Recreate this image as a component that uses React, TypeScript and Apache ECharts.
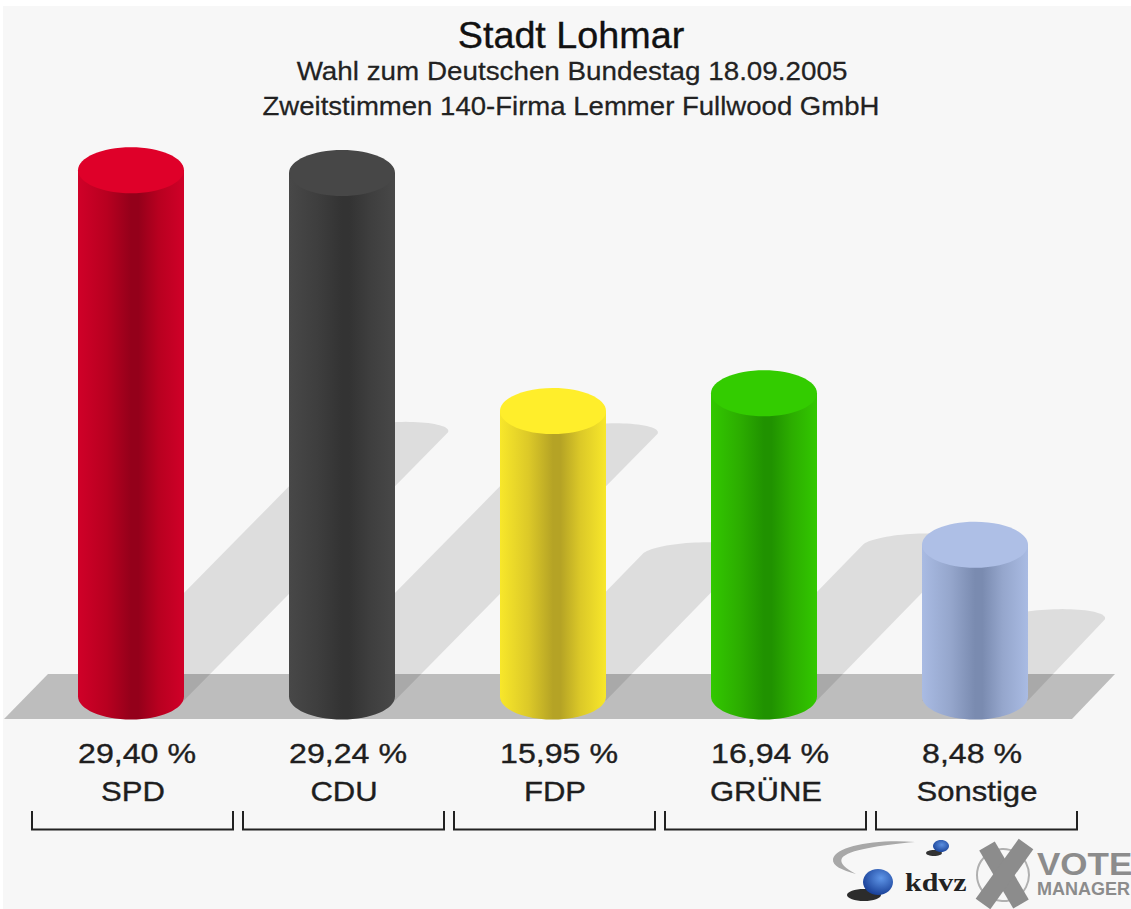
import React, { useEffect, useRef } from "react";
import * as echarts from "echarts";

const categories = ["SPD", "CDU", "FDP", "GRÜNE", "Sonstige"];
const values = [29.4, 29.24, 15.95, 16.94, 8.48];
const valueLabels = ["29,40 %", "29,24 %", "15,95 %", "16,94 %", "8,48 %"];
const capColors = ["#df0029", "#474747", "#ffee2b", "#33cc00", "#aebfe6"];
const edgeColors = ["#d00028", "#484848", "#f8e72a", "#32c800", "#a9bbe3"];
const shadeColors = ["#b80020", "#3e3e3e", "#dcc928", "#2cad00", "#95a6cc"];
const darkColors = ["#94001a", "#333333", "#b5a325", "#209200", "#7a8bb0"];

const swooshPath =
  "M915 842C875 839 836 846 833 859C832 866 842 870 856 874C846 869 839 863 842 858C848 850 880 845 915 842Z";
echarts.graphic.registerShape("kdvzSwoosh", echarts.graphic.extendPath(swooshPath, {}) as any);

const BAR_RX = 53;
const BAR_RY = 23;
const INK = "#1e1e1e";

function renderShadow(_: any, api: any) {
  const i = api.value(0);
  const [cx, top] = api.coord([i, api.value(1)]);
  const [, base] = api.coord([i, 0]);
  const lift = (base - top) / 2;
  const pts: number[][] = [[cx - BAR_RX, base + 4]];
  for (let k = 0; k <= 40; k++) {
    const a = Math.PI - (Math.PI * k) / 40;
    const s = Math.sin(a);
    pts.push([cx + lift + BAR_RX * Math.cos(a) + 11.5 * s, base - lift - 11.5 * s]);
  }
  pts.push([cx + BAR_RX, base + 4]);
  return {
    type: "polygon",
    shape: { points: pts },
    style: { fill: "rgba(0,0,0,0.1)" },
  };
}

function renderCylinder(_: any, api: any) {
  const i = api.value(0);
  const [cx, top] = api.coord([i, api.value(1)]);
  const [, base] = api.coord([i, 0]);
  const side = {
    type: "linear",
    x: 0,
    y: 0,
    x2: 1,
    y2: 0,
    colorStops: [
      { offset: 0, color: edgeColors[i] },
      { offset: 0.27, color: shadeColors[i] },
      { offset: 0.5, color: darkColors[i] },
      { offset: 0.57, color: darkColors[i] },
      { offset: 0.76, color: shadeColors[i] },
      { offset: 1, color: edgeColors[i] },
    ],
  };
  return {
    type: "group",
    children: [
      {
        type: "ellipse",
        shape: { cx, cy: base, rx: BAR_RX, ry: BAR_RY },
        style: { fill: side },
      },
      {
        type: "rect",
        shape: { x: cx - BAR_RX, y: top, width: BAR_RX * 2, height: base - top },
        style: { fill: side },
      },
      {
        type: "ellipse",
        shape: { cx, cy: top, rx: BAR_RX, ry: BAR_RY },
        style: { fill: capColors[i] },
      },
      {
        type: "text",
        x: cx - 53,
        y: 753,
        scaleX: 1.17,
        style: {
          text: valueLabels[i],
          fill: INK,
          stroke: INK,
          lineWidth: 0.35,
          font: "27.5px 'Liberation Sans'",
          align: "left",
          verticalAlign: "middle",
        },
      },
      {
        type: "text",
        x: cx + 2,
        y: 792,
        scaleX: 1.15,
        style: {
          text: categories[i],
          fill: INK,
          stroke: INK,
          lineWidth: 0.35,
          font: "27px 'Liberation Sans'",
          align: "center",
          verticalAlign: "middle",
        },
      },
      {
        type: "polyline",
        shape: {
          points: [
            [cx - 99, 811],
            [cx - 99, 829.5],
            [cx + 102, 829.5],
            [cx + 102, 811],
          ],
        },
        style: { fill: "none", stroke: "#222222", lineWidth: 2 },
      },
    ],
  };
}

const seriesData = categories.map((_, i) => [i, values[i]]);

export default function App() {
  const ref = useRef<HTMLDivElement>(null);
  useEffect(() => {
    document.body.style.margin = "0";
    document.body.style.background = "#ffffff";
    const chart = echarts.init(ref.current!, null, { renderer: "svg" });
    chart.setOption({
      animation: false,
      backgroundColor: "#ffffff",
      grid: { left: 25.5, width: 1055, top: 159.5, height: 537 },
      xAxis: {
        type: "category",
        data: categories,
        axisLine: { show: false },
        axisTick: { show: false },
        axisLabel: { show: false },
      },
      yAxis: { type: "value", min: 0, max: 30, show: false },
      series: [
        {
          type: "custom",
          renderItem: renderShadow,
          data: seriesData,
          encode: { x: 0, y: 1 },
          clip: false,
          silent: true,
          z: 2,
        },
        {
          type: "custom",
          renderItem: renderCylinder,
          data: seriesData,
          encode: { x: 0, y: 1 },
          clip: false,
          silent: true,
          z: 3,
        },
      ],
      graphic: [
        {
          type: "rect",
          z: -10,
          shape: { x: 3, y: 6, width: 1128, height: 903 },
          style: { fill: "#f7f7f7" },
        },
        {
          type: "polygon",
          z: -9,
          shape: { points: [[48, 674], [1115, 674], [1072, 719], [4, 719]] },
          style: { fill: "#bdbdbd" },
        },
        {
          type: "text",
          x: 571,
          y: 35,
          scaleX: 1.02,
          style: { text: "Stadt Lohmar", fill: "#111111", stroke: "#111111", lineWidth: 0.35, font: "37px 'Liberation Sans'", align: "center", verticalAlign: "middle" },
        },
        {
          type: "text",
          x: 572,
          y: 71,
          scaleX: 1.07,
          style: { text: "Wahl zum Deutschen Bundestag 18.09.2005", fill: "#222222", stroke: "#222222", lineWidth: 0.25, font: "26px 'Liberation Sans'", align: "center", verticalAlign: "middle" },
        },
        {
          type: "text",
          x: 571,
          y: 106,
          scaleX: 1.06,
          style: { text: "Zweitstimmen 140-Firma Lemmer Fullwood GmbH", fill: "#222222", stroke: "#222222", lineWidth: 0.25, font: "26px 'Liberation Sans'", align: "center", verticalAlign: "middle" },
        },
        { type: "kdvzSwoosh", x: 0, y: 0, style: { fill: "#a8a8a8" } },
        { type: "ellipse", shape: { cx: 934, cy: 853, rx: 8, ry: 3 }, style: { fill: "#333333" } },
        {
          type: "ellipse",
          shape: { cx: 941, cy: 846, rx: 8, ry: 6 },
          style: {
            fill: { type: "radial", x: 0.55, y: 0.4, r: 0.7, colorStops: [{ offset: 0, color: "#5b8fe0" }, { offset: 1, color: "#123a90" }] },
          },
        },
        { type: "ellipse", shape: { cx: 864, cy: 895, rx: 17, ry: 6 }, style: { fill: "#2c2c2c" } },
        {
          type: "ellipse",
          shape: { cx: 878, cy: 882, rx: 15, ry: 13 },
          style: {
            fill: { type: "radial", x: 0.6, y: 0.35, r: 0.75, colorStops: [{ offset: 0, color: "#5f96e8" }, { offset: 1, color: "#0f348c" }] },
          },
        },
        {
          type: "text",
          x: 905,
          y: 882,
          scaleX: 1.2,
          style: { text: "kdvz", fill: "#222222", font: "bold 25px 'Liberation Serif'", align: "left", verticalAlign: "middle" },
        },
        { type: "circle", shape: { cx: 1003, cy: 875, r: 26 }, style: { fill: "none", stroke: "#b0b0b0", lineWidth: 2 } },
        { type: "line", shape: { x1: 987, y1: 846, x2: 1021, y2: 904 }, style: { stroke: "#8c8c8c", lineWidth: 18 } },
        { type: "line", shape: { x1: 1026, y1: 844, x2: 983, y2: 904 }, style: { stroke: "#8c8c8c", lineWidth: 18 } },
        {
          type: "text",
          x: 1037,
          y: 864,
          scaleX: 1.13,
          style: { text: "VOTE", fill: "#8c8c8c", font: "bold 31px 'Liberation Sans'", align: "left", verticalAlign: "middle" },
        },
        {
          type: "text",
          x: 1037,
          y: 889,
          style: { text: "MANAGER", fill: "#8c8c8c", font: "bold 18px 'Liberation Sans'", align: "left", verticalAlign: "middle" },
        },
      ],
    });
    return () => chart.dispose();
  }, []);
  return <div ref={ref} style={{ position: "absolute", left: 0, top: 0, width: 1131, height: 909 }} />;
}
